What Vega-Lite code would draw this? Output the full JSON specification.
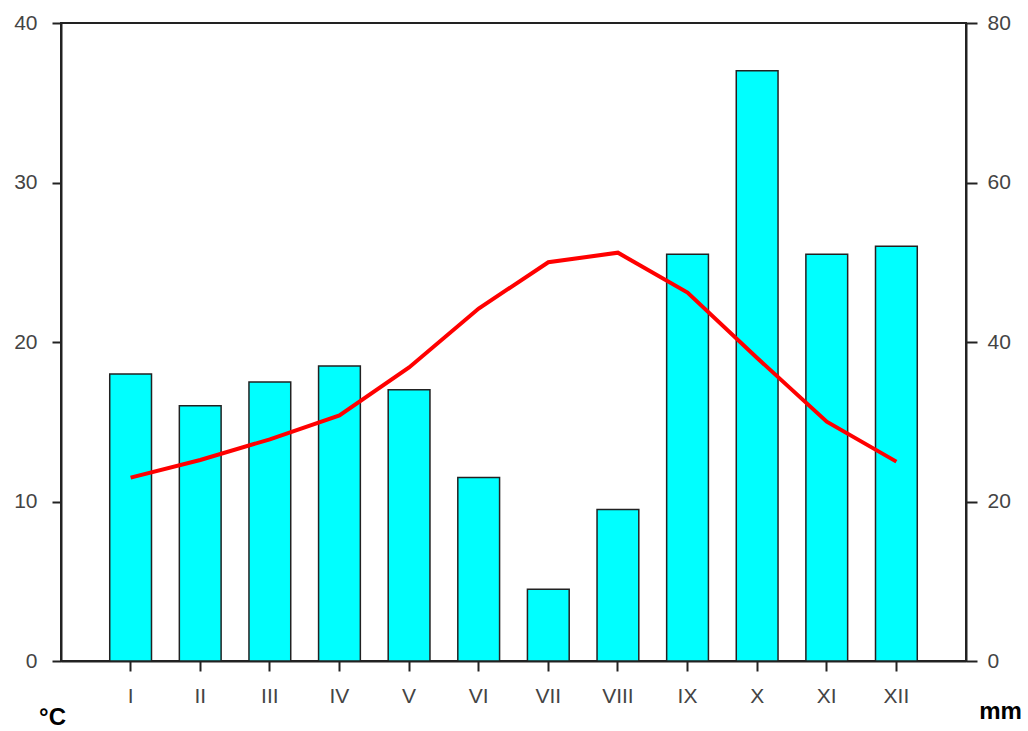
{
  "$schema": "https://vega.github.io/schema/vega-lite/v6.json",
  "width": 905,
  "height": 638,
  "autosize": {"type": "none"},
  "padding": {"left": 61, "top": 23, "right": 62, "bottom": 70},
  "background": "white",
  "config": {
    "view": {"stroke": "#222", "strokeWidth": 2},
    "axis": {
      "grid": false,
      "labelFont": "Liberation Sans",
      "labelFontSize": 21,
      "labelColor": "#444",
      "domainColor": "#222",
      "domainWidth": 2,
      "tickColor": "#222",
      "tickWidth": 2,
      "titleFont": "Liberation Sans",
      "titleFontSize": 24,
      "titleFontWeight": "bold",
      "titleColor": "#000"
    }
  },
  "data": {
    "values": [
      {"month": "I", "temp": 11.5, "precip": 36},
      {"month": "II", "temp": 12.6, "precip": 32},
      {"month": "III", "temp": 13.9, "precip": 35},
      {"month": "IV", "temp": 15.4, "precip": 37},
      {"month": "V", "temp": 18.4, "precip": 34},
      {"month": "VI", "temp": 22.1, "precip": 23},
      {"month": "VII", "temp": 25.0, "precip": 9},
      {"month": "VIII", "temp": 25.6, "precip": 19},
      {"month": "IX", "temp": 23.1, "precip": 51},
      {"month": "X", "temp": 19.0, "precip": 74},
      {"month": "XI", "temp": 15.0, "precip": 51},
      {"month": "XII", "temp": 12.5, "precip": 52}
    ]
  },
  "encoding": {
    "x": {
      "field": "month",
      "type": "nominal",
      "sort": null,
      "scale": {"paddingOuter": 0.7, "paddingInner": 0.4},
      "axis": {
        "title": null,
        "labelAngle": 0,
        "tickSize": 10,
        "labelPadding": 14,
        "domain": true
      }
    }
  },
  "layer": [
    {
      "mark": {"type": "bar", "fill": "#00FFFF", "stroke": "#222", "strokeWidth": 1.5},
      "encoding": {
        "y": {
          "field": "precip",
          "type": "quantitative",
          "scale": {"domain": [0, 80], "nice": false},
          "axis": {
            "orient": "right",
            "values": [0, 20, 40, 60, 80],
            "tickSize": 11,
            "labelPadding": 10,
            "title": "mm",
            "titleAngle": 0,
            "titleX": 34,
            "titleY": 695,
            "titleAlign": "center",
            "titleBaseline": "alphabetic"
          }
        }
      }
    },
    {
      "mark": {"type": "line", "color": "#FF0000", "strokeWidth": 4},
      "encoding": {
        "y": {
          "field": "temp",
          "type": "quantitative",
          "scale": {"domain": [0, 40], "nice": false},
          "axis": {
            "orient": "left",
            "values": [0, 10, 20, 30, 40],
            "tickSize": 9,
            "labelPadding": 15,
            "title": "°C",
            "titleAngle": 0,
            "titleX": -9,
            "titleY": 701,
            "titleAlign": "center",
            "titleBaseline": "alphabetic"
          }
        }
      }
    }
  ],
  "resolve": {"scale": {"y": "independent"}}
}
